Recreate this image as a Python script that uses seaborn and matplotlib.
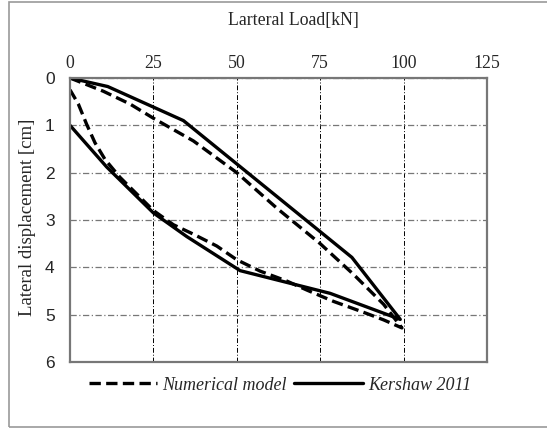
import matplotlib
matplotlib.use("Agg")
import matplotlib.pyplot as plt
import seaborn as sns
import pandas as pd
from matplotlib.lines import Line2D
from matplotlib.patches import Rectangle

# Numerical model: loading then unloading branch
num_load = [0, 10, 18, 25, 37, 50, 62, 75, 85, 94, 99.5,
            94, 88, 79, 71, 65, 57, 50, 44, 37, 31, 25, 20, 15, 10.5, 7.5, 5, 2.5, 0]
num_disp = [0, 0.28, 0.55, 0.85, 1.33, 2.0, 2.75, 3.5, 4.15, 4.78, 5.28,
            5.11, 4.95, 4.72, 4.48, 4.29, 4.08, 3.84, 3.55, 3.3, 3.1, 2.8, 2.45, 2.1, 1.72, 1.37, 0.98, 0.55, 0.25]

# Kershaw 2011: loading then unloading branch
ker_load = [0, 11.3, 34, 84.5, 99, 78, 51, 35, 25, 11, 0]
ker_disp = [0, 0.18, 0.9, 3.79, 5.1, 4.55, 4.07, 3.35, 2.85, 1.88, 1.0]

x_ticks = [0, 25, 50, 75, 100, 125]
y_ticks = [0, 1, 2, 3, 4, 5, 6]

sns.set_style("white")
serif = ["Liberation Serif", "DejaVu Serif"]
sans = ["Liberation Sans", "DejaVu Sans"]

fig = plt.figure(figsize=(5.47, 4.29), dpi=100)
ax = fig.add_axes([70/547, 1-362/429, (487-70)/547, (362-78)/429])

df_num = pd.DataFrame({"load": num_load, "disp": num_disp})
df_ker = pd.DataFrame({"load": ker_load, "disp": ker_disp})

dash = (0, (3.4, 1.6))
sns.lineplot(data=df_num, x="load", y="disp", sort=False, estimator=None, ax=ax,
             color="black", linewidth=2.4, linestyle=dash)
sns.lineplot(data=df_ker, x="load", y="disp", sort=False, estimator=None, ax=ax,
             color="black", linewidth=2.4)

ax.set_xlim(0, 125)
ax.set_ylim(6, 0)
ax.set_xticks(x_ticks)
ax.set_yticks(y_ticks)
ax.xaxis.tick_top()
ax.xaxis.set_label_position("top")
ax.tick_params(axis="both", length=0)
ax.tick_params(axis="x", pad=4.5)
ax.tick_params(axis="y", pad=11)
for lab in ax.get_xticklabels():
    lab.set_fontfamily(serif)
    lab.set_fontsize(12.8)
for lab in ax.get_yticklabels():
    lab.set_fontfamily(sans)
    lab.set_fontsize(12.5)

ax.set_xlabel("Larteral Load[kN]", fontsize=12.8, family=serif)
ax.set_ylabel("Lateral displacement [cm]", fontsize=13.5, family=serif)
ax.xaxis.set_label_coords((293-70)/417, 1 + (78-20)/284)
ax.yaxis.set_label_coords(-(70-27.5)/417, (362-217)/284)
ax.xaxis.label.set_va("center")
ax.yaxis.label.set_va("center")

ax.xaxis.grid(True, color="black", linestyle=(0, (5, 2, 1, 2)), linewidth=0.7)
ax.yaxis.grid(True, color="#777777", linestyle=(0, (5, 2, 1, 2)), linewidth=0.9)
for sp in ax.spines.values():
    sp.set_color("#777777")
    sp.set_linewidth(1.6)
    sp.set_visible(True)

handles = [Line2D([], [], color="black", linewidth=2.4, linestyle=dash),
           Line2D([], [], color="black", linewidth=2.4)]
fig.legend(handles, ["Numerical model", "Kershaw 2011"], loc="center",
           bbox_to_anchor=(280/547, 1-385/429), ncol=2, frameon=False,
           prop={"family": serif, "style": "italic", "size": 13},
           handlelength=3.8, handletextpad=0.3, columnspacing=0.4)

fig.patches.append(Rectangle((9/547, 2/429), 1.2, 425/429, transform=fig.transFigure,
                             fill=False, edgecolor="#999999", linewidth=1.2))

fig.savefig("out.png", dpi=100)
